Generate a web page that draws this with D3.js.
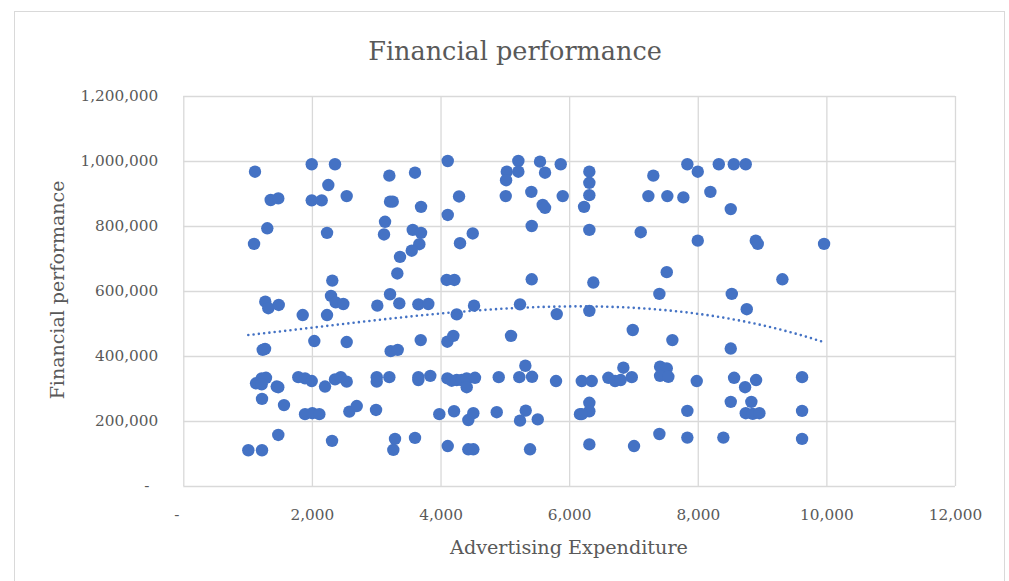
<!DOCTYPE html>
<html><head><meta charset="utf-8">
<script src="https://cdn.jsdelivr.net/npm/d3@7"></script>
<style>html,body{margin:0;padding:0;background:#fff;} svg{display:block;}</style>
</head><body><svg id="c" width="1009" height="581"></svg>
<script>
const chartTitle = "Financial performance";
const xAxisTitle = "Advertising Expenditure";
const yAxisTitle = "Financial performance";

const adExpenditure = [
1115,1997,2359,2255,1359,1477,1997,2152,2541,1306,2235,1100,2317,2297,2370,2488,1275,1322,1484,1857,2235,
4112,3204,3603,5210,5547,5869,5030,5210,5019,5625,3215,3257,3697,4288,5014,5412,5900,5589,5625,4112,3137,
3121,3568,3697,3670,3552,3370,3328,4501,4303,5418,4096,4215,5418,3215,3017,3359,3655,3810,4521,5236,4252,5807,
6314,6314,6314,6232,7309,7232,7527,7776,7838,8000,8327,8560,8746,8196,8513,6314,7113,8000,8902,8933,9964,
7518,6376,7403,8529,8762,6314,9316,
1235,1271,2037,2541,1219,1286,1131,1219,1453,1477,1788,1893,1997,2204,2359,2448,2541,3008,3008,1224,1566,
1893,2006,2115,2582,2697,2997,1477,2313,1011,1224,3266,3292,3603,4112,4432,4510,5392,3981,4210,4432,4510,
4874,5236,5325,5512,6169,3692,3225,3334,4106,4199,5096,3204,3655,3655,3841,4106,4174,4252,4330,4407,4407,
4536,4905,5225,5319,5423,5796,6989,7605,8513,6196,6351,6610,6714,6802,6843,6974,7414,7518,7414,7543,7984,
8565,8736,8907,6314,6314,6196,7838,8513,8833,8746,8855,8958,7403,7838,8398,6314,7009,9622,9622,9622
];
const financialPerformance = [
967000,990000,990000,926000,880000,885000,879000,879000,892000,793000,779000,745000,632000,585000,565000,560000,567000,547000,557000,526000,526000,
1000000,955000,964000,1000000,998000,990000,967000,967000,941000,964000,875000,875000,859000,891000,892000,905000,892000,865000,856000,834000,813000,
774000,788000,779000,744000,724000,705000,654000,777000,747000,800000,634000,634000,636000,590000,555000,562000,559000,560000,555000,559000,528000,529000,
967000,933000,895000,859000,955000,892000,892000,888000,990000,967000,990000,990000,990000,905000,852000,788000,781000,755000,755000,745000,745000,
658000,626000,591000,591000,544000,539000,636000,
419000,422000,446000,443000,331000,333000,316000,313000,306000,304000,335000,331000,323000,306000,328000,335000,321000,335000,321000,268000,249000,
221000,224000,221000,229000,246000,234000,157000,139000,110000,110000,111000,145000,148000,123000,113000,113000,113000,221000,230000,203000,224000,
227000,201000,232000,205000,221000,449000,415000,419000,444000,462000,462000,335000,335000,326000,339000,331000,324000,326000,326000,331000,304000,
333000,335000,335000,370000,336000,323000,480000,449000,423000,323000,323000,333000,323000,326000,364000,335000,367000,362000,339000,336000,323000,
333000,304000,326000,256000,230000,221000,231000,259000,259000,224000,222000,224000,160000,149000,149000,128000,123000,335000,231000,145000
];

const xTickValues = [0,2000,4000,6000,8000,10000,12000];
const xTickLabels = ["-","2,000","4,000","6,000","8,000","10,000","12,000"];
const yTickValues = [0,200000,400000,600000,800000,1000000,1200000];
const yTickLabels = ["-","200,000","400,000","600,000","800,000","1,000,000","1,200,000"];
const trendOrder = 3;

const points = adExpenditure.map((x,i)=>({x, y: financialPerformance[i]}));

const svg = d3.select("#c");
const FONT = "'DejaVu Serif', 'Liberation Serif', serif";
const GRID = "#d9d9d9";
const TXT = "#595959";
const BLUE = "#4472C4";

svg.append("rect").attr("x",14.5).attr("y",11.5).attr("width",990).attr("height",620)
  .attr("fill","none").attr("stroke",GRID).attr("stroke-width",1);

const x = d3.scaleLinear().domain([0,12000]).range([183.3,955]);
const y = d3.scaleLinear().domain([0,1200000]).range([486,96]);

const gx = svg.append("g").attr("transform","translate(0,486)")
  .call(d3.axisBottom(x).tickValues(xTickValues).tickSize(-(486-96)).tickFormat(""));
gx.select(".domain").remove();
gx.selectAll("line").attr("stroke",GRID).attr("stroke-width",1.3);

const gy = svg.append("g").attr("transform","translate(183.3,0)")
  .call(d3.axisLeft(y).tickValues(yTickValues).tickSize(-(955-183.3)).tickFormat(""));
gy.select(".domain").remove();
gy.selectAll("line").attr("stroke",GRID).attr("stroke-width",1.3);

const xl = svg.append("g").attr("transform","translate(0,486)")
  .call(d3.axisBottom(x).tickValues(xTickValues).tickSize(0).tickPadding(23)
    .tickFormat((d,i)=>xTickLabels[i]));
xl.select(".domain").remove();
xl.selectAll("text").attr("font-family",FONT).attr("font-size","15.3px").attr("fill",TXT);
xl.selectAll(".tick").filter((d,i)=>i===0).select("text").attr("dx",-7);

const yl = svg.append("g").attr("transform","translate(183.3,0)")
  .call(d3.axisLeft(y).tickValues(yTickValues).tickSize(0).tickPadding(25)
    .tickFormat((d,i)=>yTickLabels[i]));
yl.select(".domain").remove();
yl.selectAll("text").attr("font-family",FONT).attr("font-size","15.3px").attr("fill",TXT);
yl.selectAll(".tick").filter((d,i)=>i===0).select("text").attr("dx",-9);

svg.append("g").selectAll("circle").data(points).enter().append("circle")
  .attr("cx",d=>x(d.x)).attr("cy",d=>y(d.y)).attr("r",6.2)
  .attr("fill",BLUE);

// polynomial trendline via least squares
(function(){
  const n = trendOrder + 1;
  const M = Array.from({length:n},()=>new Array(n+1).fill(0));
  points.forEach(p=>{
    const xs=p.x/1000;
    for(let r=0;r<n;r++){
      for(let c=0;c<n;c++) M[r][c]+=Math.pow(xs,r+c);
      M[r][n]+=Math.pow(xs,r)*p.y;
    }
  });
  for(let i=0;i<n;i++){
    let m=i; for(let r=i+1;r<n;r++) if(Math.abs(M[r][i])>Math.abs(M[m][i])) m=r;
    [M[i],M[m]]=[M[m],M[i]];
    for(let r=0;r<n;r++){ if(r===i) continue; const f=M[r][i]/M[i][i];
      for(let c=i;c<=n;c++) M[r][c]-=f*M[i][c]; }
  }
  const coef=M.map((row,i)=>row[n]/row[i]);
  const [mn,mx]=d3.extent(points,p=>p.x);
  const line=d3.line().x(d=>x(d[0])).y(d=>y(d[1]));
  const pts=d3.range(0,201).map(i=>{const xv=mn+(mx-mn)*i/200, xs=xv/1000;
    return [xv, coef.reduce((s,c,k)=>s+c*Math.pow(xs,k),0)];});
  svg.append("path").datum(pts).attr("d",line).attr("fill","none")
    .attr("stroke",BLUE).attr("stroke-width",2.6).attr("stroke-linecap","round")
    .attr("stroke-dasharray","0,5.3");
})();

svg.append("text").attr("x",515).attr("y",60).attr("text-anchor","middle")
  .attr("font-family",FONT).attr("font-size","25.5px").attr("fill",TXT).text(chartTitle);
svg.append("text").attr("x",569).attr("y",554).attr("text-anchor","middle")
  .attr("font-family",FONT).attr("font-size","19.2px").attr("fill",TXT).text(xAxisTitle);
svg.append("text").attr("transform","translate(64,290) rotate(-90)").attr("text-anchor","middle")
  .attr("font-family",FONT).attr("font-size","19px").attr("fill",TXT).text(yAxisTitle);
</script>
</body></html>
